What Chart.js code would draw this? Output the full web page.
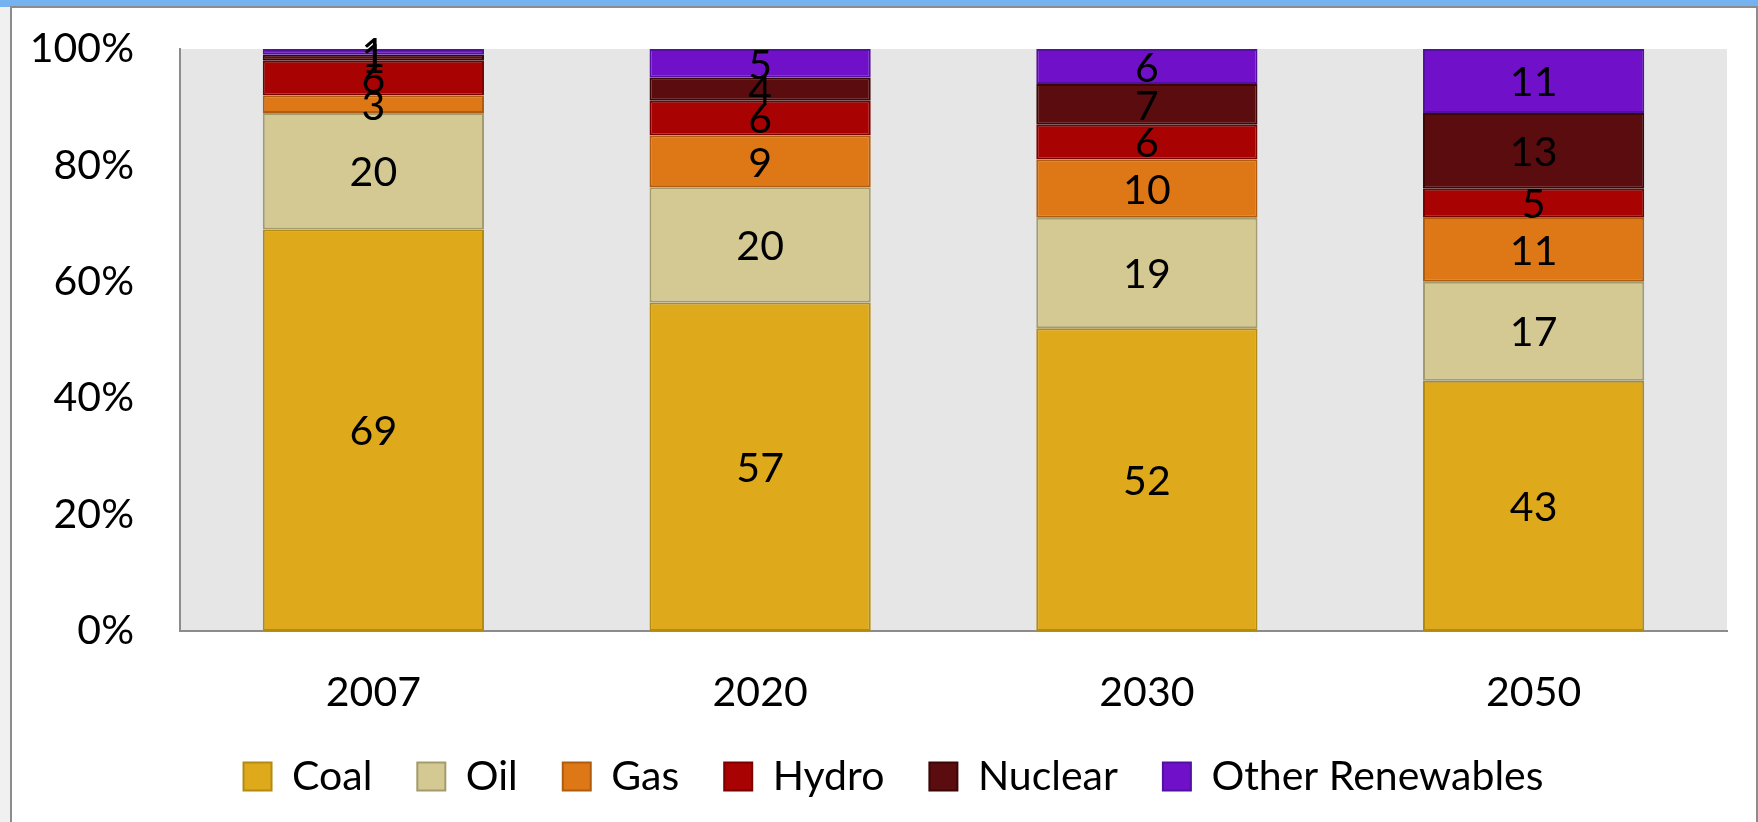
<!DOCTYPE html>
<html>
<head>
<meta charset="utf-8">
<script src="https://cdn.jsdelivr.net/npm/chart.js@4/dist/chart.umd.min.js"></script>
<style>
    body {
        margin: 0;
        background: #f0f0f0;
        width: 1758px;
        height: 822px;
        overflow: hidden;
    }
    .top-strip {
        position: absolute;
        left: 0; top: 0;
        width: 1758px; height: 7px;
        background: #74b3ef;
    }
    .frame {
        position: absolute;
        left: 10px; top: 6px;
        width: 1744px; height: 830px;
        border: 2px solid #8c8c8c;
        background: #fff;
    }
    .chart-box {
        position: absolute;
        left: 0; top: 0;
        width: 1744px; height: 814px;
    }
</style>
</head>
<body>
<div class="top-strip"></div>
<div class="frame">
    <div class="chart-box"><canvas id="mixChart"></canvas></div>
</div>
<script>
// years and fuel shares (percent, as printed on the bars)
const years = ['2007', '2020', '2030', '2050'];
const coal = [69, 57, 52, 43];
const oil = [20, 20, 19, 17];
const gas = [3, 9, 10, 11];
const hydro = [6, 6, 6, 5];
const nuclear = [1, 4, 7, 13];
const renewables = [1, 5, 6, 11];
const y_ticks = [0, 20, 40, 60, 80, 100];

const font_family = "Lato, 'Open Sans', sans-serif";

const series = [
    {name: 'Coal', values: coal, fill: '#deaa1c', edge: '#b38a12'},
    {name: 'Oil', values: oil, fill: '#d4c993', edge: '#a39b6e'},
    {name: 'Gas', values: gas, fill: '#de7716', edge: '#b05c10'},
    {name: 'Hydro', values: hydro, fill: '#a80202', edge: '#7a0000'},
    {name: 'Nuclear', values: nuclear, fill: '#5a0c0e', edge: '#3c0607'},
    {name: 'Other Renewables', values: renewables, fill: '#7010c8', edge: '#5210a0'}
];

// column totals, so every bar is scaled to 100%
function column_totals() {
    let totals = [];
    for (let i = 0; i < years.length; ++i) {
        let sum = 0;
        for (let s of series) {
            sum += s.values[i];
        }
        totals.push(sum);
    }
    return totals;
}
const totals = column_totals();

function make_datasets() {
    let sets = [];
    for (let s of series) {
        sets.push({
            label: s.name,
            raw: s.values,
            data: s.values.map((v, i) => v / totals[i] * 100),
            backgroundColor: s.fill,
            borderColor: s.edge,
            borderWidth: 2,
            borderSkipped: false,
            barPercentage: 0.572,
            categoryPercentage: 1.0
        });
    }
    return sets;
}

// grey plot background
const plot_bg = {
    id: 'plot_bg',
    beforeDraw(chart) {
        const {ctx, chartArea: a} = chart;
        ctx.save();
        ctx.fillStyle = '#e6e6e6';
        ctx.fillRect(a.left, a.top, a.right - a.left, a.bottom - a.top);
        ctx.restore();
    }
};

// nudge the legend row a bit to the right
const legend_shift = {
    id: 'legend_shift',
    afterLayout(chart) {
        if (chart.legend) {
            chart.legend.left += 24;
            chart.legend.right += 24;
        }
    }
};

// value written in the middle of each segment
const seg_labels = {
    id: 'seg_labels',
    afterDatasetsDraw(chart) {
        const ctx = chart.ctx;
        ctx.save();
        ctx.font = '41px ' + font_family;
        ctx.fillStyle = '#000';
        ctx.textAlign = 'center';
        ctx.textBaseline = 'middle';
        chart.data.datasets.forEach((ds, di) => {
            const meta = chart.getDatasetMeta(di);
            meta.data.forEach((bar, i) => {
                ctx.fillText(String(ds.raw[i]), bar.x, (bar.y + bar.base) / 2 + 2);
            });
        });
        ctx.restore();
    }
};

const config = {
    type: 'bar',
    data: {
        labels: years,
        datasets: make_datasets()
    },
    options: {
        responsive: true,
        maintainAspectRatio: false,
        animation: false,
        layout: {
            padding: {top: 41, right: 29, left: 0, bottom: 15}
        },
        scales: {
            x: {
                stacked: true,
                grid: {display: false, drawTicks: false},
                border: {display: true, color: '#8c8c8c', width: 2},
                ticks: {
                    color: '#000',
                    padding: 37,
                    font: {family: font_family, size: 41}
                },
                afterFit(scale) { scale.height = 80; }
            },
            y: {
                stacked: true,
                min: 0,
                max: 100,
                afterBuildTicks(scale) {
                    scale.ticks = y_ticks.map(v => ({value: v}));
                },
                grid: {display: false, drawTicks: false},
                border: {display: true, color: '#8c8c8c', width: 2},
                ticks: {
                    color: '#000',
                    padding: 46,
                    font: {family: font_family, size: 41},
                    callback: v => v + '%'
                },
                afterFit(scale) {
                    scale.width = 168;
                    // labels may hang over the plot edges
                    scale.paddingTop = 0;
                    scale.paddingBottom = 0;
                }
            }
        },
        plugins: {
            legend: {
                position: 'bottom',
                labels: {
                    color: '#000',
                    boxWidth: 28,
                    boxHeight: 28,
                    padding: 45,
                    font: {family: font_family, size: 41}
                }
            },
            tooltip: {enabled: false}
        }
    },
    plugins: [plot_bg, legend_shift, seg_labels]
};

const mix_chart = new Chart(document.getElementById('mixChart'), config);
</script>
</body>
</html>
